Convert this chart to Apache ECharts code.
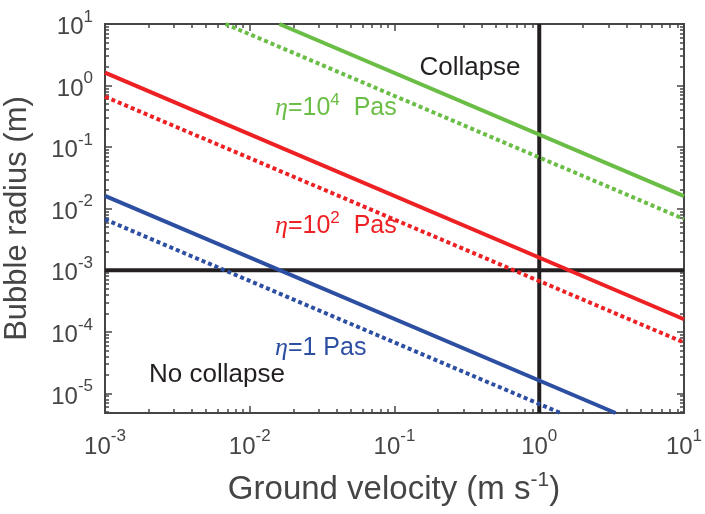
<!DOCTYPE html>
<html>
<head>
<meta charset="utf-8">
<script src="https://cdn.jsdelivr.net/npm/echarts@6/dist/echarts.min.js"></script>
<style>
html,body{margin:0;padding:0;background:#fff;}
#chart{width:705px;height:514px;}
</style>
</head>
<body>
<div id="chart"></div>
<script>
// ---- axis ranges and tick labels ----
const X_MIN = 1e-3, X_MAX = 10;
const Y_MIN = 4.8e-6, Y_MAX = 10;
const xMajorExp = [-3, -2, -1, 0, 1];
const yMajorExp = [-5, -4, -3, -2, -1, 0, 1];

// ---- series (ground velocity m/s, bubble radius m) ----
const velEta1Solid = [0.001, 3.37];
const radEta1Solid = [0.0162, 4.8e-6];
const velEta1Dot = [0.001, 1.4];
const radEta1Dot = [0.0067, 4.8e-6];
const velEta100Solid = [0.001, 10];
const radEta100Solid = [1.62, 1.6e-4];
const velEta100Dot = [0.001, 10];
const radEta100Dot = [0.66, 6.7e-5];
const velEta1e4Solid = [0.016, 10];
const radEta1e4Solid = [10, 0.016];
const velEta1e4Dot = [0.0068, 10];
const radEta1e4Dot = [10, 0.0068];

// ---- threshold lines ----
const thresholdRadius = 1e-3;
const thresholdVelocity = 1;

function pairs(xs, ys) { return xs.map((x, i) => [x, ys[i]]); }
function minorExps(lo, hi) {
  const out = [];
  for (let e = Math.floor(Math.log10(lo)) - 1; e <= Math.ceil(Math.log10(hi)); e++) {
    for (let k = 2; k <= 9; k++) {
      const v = k * Math.pow(10, e);
      if (v > lo && v < hi) out.push(Math.log10(v));
    }
  }
  return out;
}
const xMinorExp = minorExps(X_MIN, X_MAX);
const yMinorExp = minorExps(Y_MIN, Y_MAX);

const FONT = 'Liberation Sans, Arial, Helvetica, sans-serif';
const AXC = '#454545';
const GREEN = '#6abd45', RED = '#ed2024', BLUE = '#2d4fa2', BLACK = '#231f20';

const supRich = {
  b: {fontSize: 24, lineHeight: 31, verticalAlign: 'bottom', color: AXC, fontFamily: FONT},
  s: {fontSize: 17, lineHeight: 10, verticalAlign: 'top', color: AXC, fontFamily: FONT}
};
function expLabel(v) { return '{b|10}{s|' + Math.round(v) + '}'; }

function tickAxis(gridIndex, pos, min, max, values, len, labels, extra) {
  const a = {
    type: 'value', gridIndex: gridIndex, position: pos, min: min, max: max,
    axisLine: {show: false, onZero: false},
    splitLine: {show: false},
    axisTick: {show: true, inside: true, length: len, customValues: values,
      lineStyle: {color: AXC, width: 1.5}},
    axisLabel: labels ? {show: true, customValues: values, formatter: expLabel,
      rich: supRich, margin: labels} : {show: false}
  };
  return Object.assign(a, extra || {});
}

const xLo = Math.log10(X_MIN), xHi = Math.log10(X_MAX);
const yLo = Math.log10(Y_MIN), yHi = Math.log10(Y_MAX);
const gridRect = {left: 105, right: 21, top: 24, bottom: 101, containLabel: false, outerBoundsMode: 'none'};

function etaLabel(x, y, color, base, sup, gap) {
  return {type: 'text', x: x, y: y, z: 100, style: {
    text: '{e|η}{n|=' + base + '}' + (sup ? '{s|' + sup + '}' : '') + '{n|' + gap + 'Pas}',
    fill: color, align: 'left', verticalAlign: 'top',
    rich: {
      e: {fontSize: 26, lineHeight: 29, verticalAlign: 'bottom', fontStyle: 'italic', fontFamily: 'Liberation Serif, serif', fill: color},
      n: {fontSize: 25, lineHeight: 29, verticalAlign: 'bottom', fontFamily: FONT, fill: color},
      s: {fontSize: 17, lineHeight: 10, verticalAlign: 'top', fontFamily: FONT, fill: color}
    }
  }};
}

const option = {
  animation: false,
  backgroundColor: '#fff',
  grid: [
    Object.assign({show: true, borderColor: AXC, borderWidth: 2, backgroundColor: 'transparent'}, gridRect),
    Object.assign({show: false}, gridRect),
    Object.assign({show: false}, gridRect)
  ],
  xAxis: [
    {type: 'log', logBase: 10, gridIndex: 0, min: X_MIN, max: X_MAX, show: false},
    tickAxis(1, 'bottom', xLo, xHi, xMajorExp, 7, 15),
    tickAxis(1, 'top', xLo, xHi, xMajorExp, 7, 0),
    tickAxis(2, 'bottom', xLo, xHi, xMinorExp, 4, 0),
    tickAxis(2, 'top', xLo, xHi, xMinorExp, 4, 0)
  ],
  yAxis: [
    {type: 'log', logBase: 10, gridIndex: 0, min: Y_MIN, max: Y_MAX, show: false},
    tickAxis(1, 'left', yLo, yHi, yMajorExp, 7, 12, {
      name: 'Bubble radius (m)', nameLocation: 'middle', nameGap: 72,
      nameMoveOverlap: false,
      nameTextStyle: {fontSize: 31, color: AXC, fontFamily: FONT}
    }),
    tickAxis(1, 'right', yLo, yHi, yMajorExp, 7, 0),
    tickAxis(2, 'left', yLo, yHi, yMinorExp, 4, 0),
    tickAxis(2, 'right', yLo, yHi, yMinorExp, 4, 0)
  ],
  series: [
    {type: 'line', xAxisIndex: 0, yAxisIndex: 0, showSymbol: false, symbol: 'none',
      data: [[X_MIN, thresholdRadius], [X_MAX, thresholdRadius]],
      lineStyle: {color: BLACK, width: 4}},
    {type: 'line', xAxisIndex: 0, yAxisIndex: 0, showSymbol: false, symbol: 'none',
      data: [[thresholdVelocity, Y_MIN], [thresholdVelocity, Y_MAX]],
      lineStyle: {color: BLACK, width: 4}},
    {type: 'line', showSymbol: false, symbol: 'none', data: pairs(velEta1Dot, radEta1Dot),
      lineStyle: {color: BLUE, width: 4, type: [4, 3], cap: 'butt'}},
    {type: 'line', showSymbol: false, symbol: 'none', data: pairs(velEta1Solid, radEta1Solid),
      lineStyle: {color: BLUE, width: 4}},
    {type: 'line', showSymbol: false, symbol: 'none', data: pairs(velEta100Dot, radEta100Dot),
      lineStyle: {color: RED, width: 4, type: [4, 3], cap: 'butt'}},
    {type: 'line', showSymbol: false, symbol: 'none', data: pairs(velEta100Solid, radEta100Solid),
      lineStyle: {color: RED, width: 4}},
    {type: 'line', showSymbol: false, symbol: 'none', data: pairs(velEta1e4Dot, radEta1e4Dot),
      lineStyle: {color: GREEN, width: 4, type: [4, 3], cap: 'butt'}},
    {type: 'line', showSymbol: false, symbol: 'none', data: pairs(velEta1e4Solid, radEta1e4Solid),
      lineStyle: {color: GREEN, width: 4}}
  ],
  graphic: [
    {type: 'text', x: 394, y: 470, z: 100, style: {
      text: '{m|Ground velocity (m s}{s|-1}{m|)}',
      fill: AXC, align: 'center', verticalAlign: 'top',
      rich: {
        m: {fontSize: 33, lineHeight: 36, verticalAlign: 'bottom', fontFamily: FONT, fill: AXC},
        s: {fontSize: 21, lineHeight: 10, verticalAlign: 'top', fontFamily: FONT, fill: AXC}
      }
    }},
    {type: 'text', x: 470, y: 68, z: 100, style: {text: 'Collapse', fill: BLACK,
      font: '26px ' + FONT, align: 'center', verticalAlign: 'middle'}},
    {type: 'text', x: 217, y: 375, z: 100, style: {text: 'No collapse', fill: BLACK,
      font: '26px ' + FONT, align: 'center', verticalAlign: 'middle'}},
    etaLabel(275, 92, GREEN, '10', '4', '  '),
    etaLabel(275, 210, RED, '10', '2', '  '),
    etaLabel(275, 332, BLUE, '1', '', ' ')
  ]
};

const chart = echarts.init(document.getElementById('chart'), null, {renderer: 'canvas'});
chart.setOption(option);
</script>
</body>
</html>
